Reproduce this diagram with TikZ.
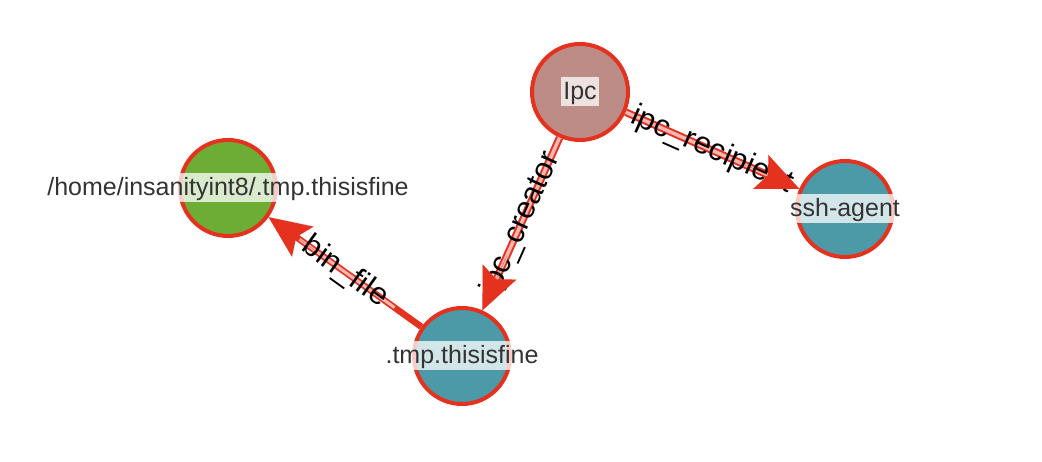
\documentclass[tikz,border=0pt]{standalone}
\usepackage{fontspec}
\setmainfont{Liberation Sans}
\usetikzlibrary{arrows.meta}
\definecolor{edgered}{HTML}{E5321F}
\definecolor{edgepink}{HTML}{F6B6B1}
\definecolor{ipcfill}{HTML}{BE8C86}
\definecolor{filegreen}{HTML}{6DAD36}
\definecolor{procteal}{HTML}{4C99A8}
\definecolor{labelgray}{HTML}{333333}
\tikzset{
  vert/.style={circle, draw=edgered, line width=4pt, minimum size=96pt,
               inner sep=0pt},
  nlbl/.style={fill=white, fill opacity=0.75, text opacity=1, text=labelgray,
               font=\fontsize{25}{29}\selectfont, inner xsep=2.5pt,
               inner ysep=1pt, text height=21pt, text depth=6pt},
  wire/.style={draw=edgered, line width=2pt, double=edgepink,
               double distance=3.5pt, shorten >=34pt},
  wireB/.style={draw=edgered, line width=6.5pt, shorten >=34pt},
  core/.style={draw=edgepink, line width=3pt},
  arrowhd/.style={-{Stealth[length=42pt, width=37pt, inset=8pt]},
                  draw=edgered, fill=edgered, line width=0.01pt,
                  shorten <=130pt},
  elbl/.style={sloped, midway, font=\fontsize{31}{35}\selectfont,
               text=black, inner sep=0pt},
}

\begin{document}
\begin{tikzpicture}[x=1pt, y=-1pt]
  \useasboundingbox (0,0) rectangle (1042,462);
  % processes and files
  \node[vert, fill=ipcfill, label={[nlbl]center:Ipc}] (ipc) at (580,92) {};
  \node[vert, fill=filegreen,
        label={[nlbl]center:/home/insanityint8/.tmp.thisisfine}]
    (home) at (228,188) {};
  \node[vert, fill=procteal, label={[nlbl]center:.tmp.thisisfine}]
    (tmp) at (462,356) {};
  \node[vert, fill=procteal, label={[nlbl]center:ssh-agent}]
    (ssh) at (845,209) {};

  % relations
  \draw[wire] (ipc) -- (tmp) node[elbl] {ipc\_creator};
  \draw[wire] (ipc) -- (ssh) node[elbl] {ipc\_recipient};
  \draw[wireB] (tmp) -- (home);
  \draw[core, shorten <=33pt, shorten >=38pt] (tmp) -- (home)
    node[elbl] {bin\_file};

  % arrow heads on top of the labels
  \draw[arrowhd] (ipc) -- (tmp);
  \draw[arrowhd] (ipc) -- (ssh);
  \draw[arrowhd] (tmp) -- (home);
\end{tikzpicture}
\end{document}
